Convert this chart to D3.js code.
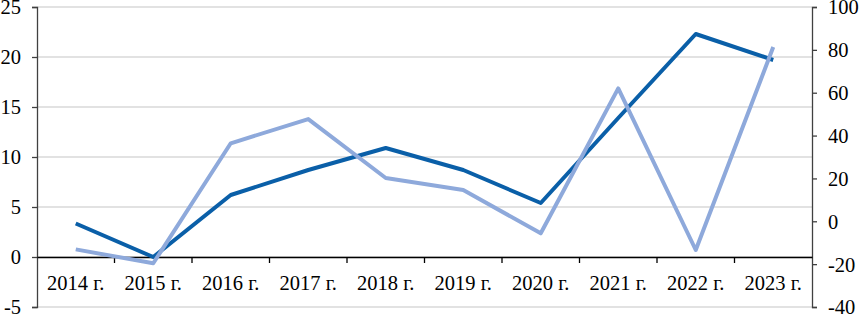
<!DOCTYPE html>
<html lang="ru">
<head>
<meta charset="utf-8">
<script src="https://d3js.org/d3.v7.min.js"></script>
<style>
  body { margin: 0; background: #fff; }
  .axis text { font-family: "Liberation Serif", "Times New Roman", serif; font-size: 20.5px; fill: #000; }
</style>
</head>
<body>
<div id="chart"></div>
<script>
// data
const years = ["2014 г.", "2015 г.", "2016 г.", "2017 г.", "2018 г.", "2019 г.", "2020 г.", "2021 г.", "2022 г.", "2023 г."];
const leftSeries = [3.35, 0, 6.2, 8.7, 10.9, 8.7, 5.4, 13.9, 22.3, 19.7];
const rightSeries = [-13.1, -19.6, 36.4, 47.7, 20.2, 14.6, -5.6, 62, -13.4, 81.3];
const leftTicks = [-5, 0, 5, 10, 15, 20, 25];
const rightTicks = [-40, -20, 0, 20, 40, 60, 80, 100];

const W = 860, H = 314;
const x0 = 37, x1 = 812, yTop = 7, yBot = 307;

const svg = d3.select("#chart").append("svg")
  .attr("width", W).attr("height", H);

const x = d3.scaleBand().domain(years).range([x0, x1]).padding(0);
const yL = d3.scaleLinear().domain([-5, 25]).range([yBot, yTop]);
const yR = d3.scaleLinear().domain([-40, 100]).range([yBot, yTop]);
const fmt = d => String(d);

// gridlines
svg.append("g").selectAll("line")
  .data(leftTicks)
  .join("line")
  .attr("x1", x0).attr("x2", x1)
  .attr("y1", d => yL(d)).attr("y2", d => yL(d))
  .attr("stroke", "#d9d9d9").attr("stroke-width", 1.5);

// left axis
const gl = svg.append("g").attr("class", "axis")
  .attr("transform", `translate(${x0},0)`)
  .call(d3.axisLeft(yL).tickValues(leftTicks).tickSize(5).tickPadding(11).tickFormat(fmt));
gl.select(".domain").attr("stroke", "#404040").attr("stroke-width", 1.3);
gl.selectAll(".tick line").attr("stroke", "#404040").attr("stroke-width", 1.3);
gl.selectAll(".tick text").attr("dy", "0.34em");

// right axis
const gr = svg.append("g").attr("class", "axis")
  .attr("transform", `translate(${x1},0)`)
  .call(d3.axisRight(yR).tickValues(rightTicks).tickSize(5).tickPadding(11).tickFormat(fmt));
gr.select(".domain").attr("stroke", "#404040").attr("stroke-width", 1.3);
gr.selectAll(".tick line").attr("stroke", "#404040").attr("stroke-width", 1.3);
gr.selectAll(".tick text").attr("dy", "0.34em");

// x axis at zero of left scale
const gx = svg.append("g").attr("class", "axis")
  .attr("transform", `translate(0,${yL(0)})`)
  .call(d3.axisBottom(x).tickSize(0));
gx.select(".domain").attr("stroke", "#000").attr("stroke-width", 1.3);
gx.selectAll(".tick text").attr("y", 26).attr("dy", "0.34em");
// category boundary ticks
gx.append("g").selectAll("line")
  .data(years.slice(1))
  .join("line")
  .attr("x1", d => x(d)).attr("x2", d => x(d))
  .attr("y1", 0).attr("y2", 6)
  .attr("stroke", "#000").attr("stroke-width", 1.3);

const cx = d => x(d) + x.bandwidth() / 2;

// dark series (left axis)
svg.append("path")
  .datum(leftSeries)
  .attr("fill", "none")
  .attr("stroke", "#0a5fa8")
  .attr("stroke-width", 4)
  .attr("stroke-linejoin", "round")
  .attr("d", d3.line().x((d, i) => cx(years[i])).y(d => yL(d)));

// light series (right axis)
svg.append("path")
  .datum(rightSeries)
  .attr("fill", "none")
  .attr("stroke", "#8ea9db")
  .attr("stroke-width", 4)
  .attr("stroke-linejoin", "round")
  .attr("d", d3.line().x((d, i) => cx(years[i])).y(d => yR(d)));
</script>
</body>
</html>
